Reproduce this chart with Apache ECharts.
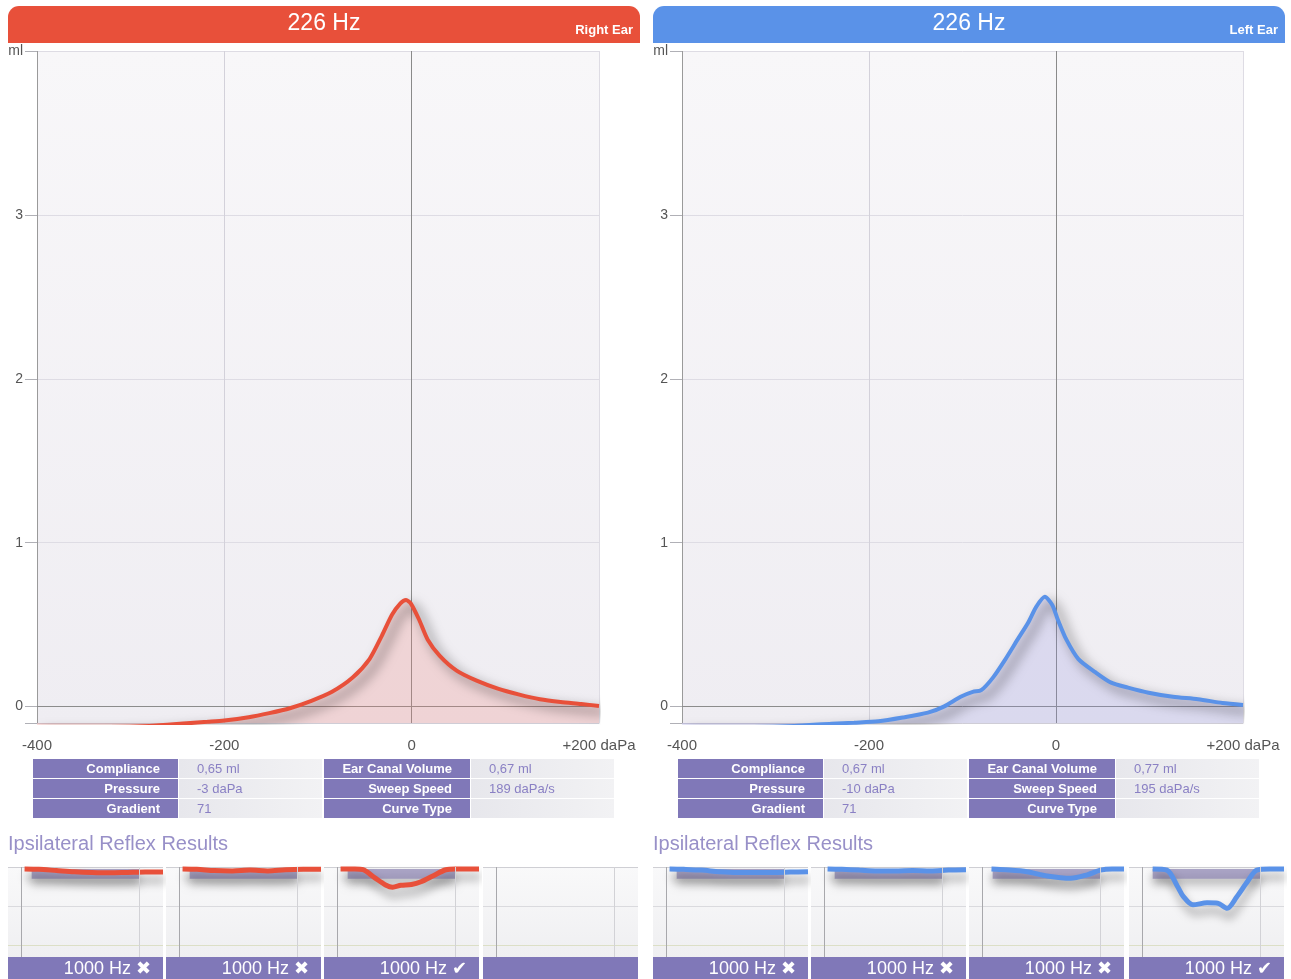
<!DOCTYPE html>
<html>
<head>
<meta charset="utf-8">
<title>Tympanometry</title>
<script src="https://cdn.jsdelivr.net/npm/echarts@6.0.0/dist/echarts.min.js"></script>
<style>
  html, body { margin: 0; padding: 0; background: #fff; }
  #chart { width: 1291px; height: 979px; }
</style>
</head>
<body>
<div id="chart"></div>
<script>
// tympanogram curves (pressure in daPa, compliance in ml)
const rightPressure = [-400, -340, -280, -240, -218, -200, -174, -152, -130, -107, -85, -63, -45, -32, -21, -12, -6, -1, 8, 17, 30, 48, 70, 92, 114, 137, 159, 181, 200];
const rightCompliance = [-0.125, -0.125, -0.118, -0.102, -0.093, -0.085, -0.065, -0.04, -0.01, 0.035, 0.09, 0.177, 0.29, 0.43, 0.56, 0.63, 0.65, 0.63, 0.53, 0.41, 0.31, 0.22, 0.157, 0.11, 0.075, 0.045, 0.028, 0.016, 0.004];
const leftPressure = [-400, -340, -280, -240, -216, -190, -164, -137, -120, -102, -89, -80, -67, -54, -41, -30, -21, -12, -4, 2, 11, 24, 42, 59, 77, 99, 125, 152, 178, 200];
const leftCompliance = [-0.125, -0.125, -0.118, -0.104, -0.098, -0.09, -0.067, -0.037, 0, 0.06, 0.09, 0.1, 0.18, 0.29, 0.41, 0.51, 0.61, 0.67, 0.62, 0.53, 0.41, 0.29, 0.21, 0.146, 0.116, 0.085, 0.06, 0.045, 0.022, 0.01];

const pressureTicks = ['-400', '-200', '0', '+200 daPa'];
const complianceTicks = [0, 1, 2, 3, 4];

// results tables
const tableLabels1 = ['Compliance', 'Pressure', 'Gradient'];
const tableLabels2 = ['Ear Canal Volume', 'Sweep Speed', 'Curve Type'];
const rightValues1 = ['0,65 ml', '-3 daPa', '71'];
const rightValues2 = ['0,67 ml', '189 daPa/s', ''];
const leftValues1 = ['0,67 ml', '-10 daPa', '71'];
const leftValues2 = ['0,77 ml', '195 daPa/s', ''];

// ipsilateral reflexes (time in s, deflection downward)
const rightReflexTime = [
    [0.03, 0.15, 0.3, 0.45, 0.6, 0.75, 0.9, 1.05, 1.2],
    [0.03, 0.15, 0.3, 0.45, 0.6, 0.75, 0.9, 1.05, 1.2],
    [0.03, 0.15, 0.22, 0.32, 0.41, 0.47, 0.54, 0.63, 0.71, 0.81, 0.92, 1.0, 1.2],
    []
];
const rightReflexDrop = [
    [0.05, 0.06, 0.09, 0.12, 0.14, 0.15, 0.14, 0.13, 0.13],
    [0.05, 0.06, 0.09, 0.1, 0.08, 0.1, 0.07, 0.06, 0.06],
    [0.05, 0.05, 0.07, 0.28, 0.46, 0.52, 0.47, 0.45, 0.38, 0.23, 0.07, 0.05, 0.05],
    []
];
const leftReflexTime = [
    [0.03, 0.15, 0.3, 0.45, 0.6, 0.75, 0.9, 1.05, 1.2],
    [0.03, 0.15, 0.3, 0.45, 0.6, 0.75, 0.9, 1.05, 1.2],
    [0.08, 0.2, 0.38, 0.55, 0.75, 0.89, 1.0, 1.1, 1.2],
    [0.09, 0.21, 0.3, 0.35, 0.43, 0.55, 0.64, 0.72, 0.8, 0.89, 0.97, 1.08, 1.2]
];
const leftReflexDrop = [
    [0.05, 0.06, 0.08, 0.12, 0.14, 0.14, 0.14, 0.13, 0.12],
    [0.05, 0.06, 0.08, 0.1, 0.1, 0.09, 0.1, 0.08, 0.07],
    [0.05, 0.07, 0.12, 0.23, 0.29, 0.2, 0.08, 0.05, 0.05],
    [0.05, 0.08, 0.5, 0.76, 0.97, 0.92, 0.93, 1.06, 0.77, 0.38, 0.08, 0.05, 0.05]
];
const rightReflexLabels = ['1000 Hz \u2716', '1000 Hz \u2716', '1000 Hz \u2714', ''];
const leftReflexLabels = ['1000 Hz \u2716', '1000 Hz \u2716', '1000 Hz \u2716', '1000 Hz \u2714'];

const RED = '#e8503a';
const BLUE = '#5a92e8';
const PURPLE = '#8078b8';
const FONT = '"Liberation Sans", Arial, "DejaVu Sans", sans-serif';

const chart = echarts.init(document.getElementById('chart'));

const plotBg = {
    type: 'linear', x: 0, y: 0, x2: 0, y2: 1,
    colorStops: [{offset: 0, color: '#f8f7f9'}, {offset: 1, color: '#efedf2'}]
};
const miniBg = {
    type: 'linear', x: 0, y: 0, x2: 0, y2: 1,
    colorStops: [{offset: 0, color: '#f9f9fa'}, {offset: 1, color: '#efeff1'}]
};

const grids = [];
const xAxes = [];
const yAxes = [];
const series = [];

// main tympanogram panels
function addMain(left, width, pressure, compliance, color, fill) {
    const idx = grids.length;
    grids.push({left: left, top: 51, width: width, height: 672, show: true, backgroundColor: plotBg, borderWidth: 0});
    xAxes.push({
        gridIndex: idx, type: 'value', min: -400, max: 200, interval: 200,
        axisLine: {onZero: false, lineStyle: {color: '#cfcdd6'}},
        axisTick: {show: false},
        axisLabel: {
            color: '#555', fontSize: 15, margin: 15, fontFamily: FONT,
            formatter: v => pressureTicks[(v + 400) / 200]
        },
        splitLine: {show: true, lineStyle: {color: ['#9a9a9a', '#d3d1da', '#8a8a8a', '#dedce4'], width: 1}}
    });
    yAxes.push({
        gridIndex: idx, type: 'value', min: -0.1, max: 4,
        axisLine: {show: false, onZero: false},
        axisTick: {show: true, customValues: [-0.1, 0, 1, 2, 3, 4], length: 12, lineStyle: {color: '#b0b0b6'}},
        axisLabel: {
            customValues: complianceTicks, color: '#555', fontSize: 14, margin: 14, fontFamily: FONT,
            formatter: v => v === 4 ? 'ml' : v
        },
        splitLine: {show: true, lineStyle: {color: '#dedce4'}}
    });
    series.push({
        type: 'line', xAxisIndex: idx, yAxisIndex: idx,
        data: pressure.map((p, i) => [p, compliance[i]]),
        smooth: 0.25, showSymbol: false, clip: true, silent: true,
        lineStyle: {color: color, width: 4, shadowBlur: 12, shadowColor: 'rgba(0,0,0,0.55)', shadowOffsetX: 6, shadowOffsetY: 6},
        areaStyle: {origin: 'start', color: fill},
        markLine: {
            silent: true, symbol: 'none', label: {show: false}, z: 1,
            data: [{yAxis: 0, lineStyle: {color: '#8c8c8c', width: 1, type: 'solid'}}]
        }
    });
}

addMain(37, 562, rightPressure, rightCompliance, RED, 'rgba(240,130,120,0.34)');
addMain(682, 561, leftPressure, leftCompliance, BLUE, 'rgba(140,140,225,0.3)');

// reflex mini panels
function addMini(x0, times, drops, color, withMarker) {
    const idx = grids.length;
    grids.push({left: x0, top: 867, width: 155, height: 90, show: true, backgroundColor: miniBg, borderWidth: 0});
    xAxes.push({
        gridIndex: idx, type: 'value', min: -0.11, max: 1.2,
        axisLine: {show: false}, axisTick: {show: false}, axisLabel: {show: false}, splitLine: {show: false}
    });
    yAxes.push({
        gridIndex: idx, type: 'value', inverse: true, min: 0, max: 2.31, interval: 1,
        axisLine: {show: false}, axisTick: {show: false}, axisLabel: {show: false},
        splitLine: {show: true, lineStyle: {color: ['#cfcfd4', '#dadade', '#dcdfc6', 'rgba(0,0,0,0)']}}
    });
    series.push({
        type: 'line', xAxisIndex: idx, yAxisIndex: idx,
        data: times.map((t, i) => [t, drops[i]]),
        smooth: 0.3, showSymbol: false, clip: true, silent: true,
        lineStyle: {color: color, width: 5, shadowBlur: 10, shadowColor: 'rgba(0,0,0,0.35)', shadowOffsetX: 2, shadowOffsetY: 8},
        markLine: {
            silent: true, symbol: 'none', label: {show: false},
            data: [
                {xAxis: 0, lineStyle: {color: '#a8a8ac', width: 1, type: 'solid'}},
                {xAxis: 1, lineStyle: {color: '#d2d2d6', width: 1, type: 'solid'}}
            ]
        },
        markArea: withMarker ? {
            silent: true,
            itemStyle: {color: 'rgba(145,138,182,0.75)', shadowBlur: 10, shadowColor: 'rgba(0,0,0,0.35)', shadowOffsetY: 6},
            data: [[{xAxis: 0.09, yAxis: 0.05}, {xAxis: 1.0, yAxis: 0.3}]]
        } : undefined
    });
}

const rightPanelX = [8, 166, 324, 483];
const leftPanelX = [653, 811, 969, 1129];
rightPanelX.forEach((x, i) => addMini(x, rightReflexTime[i], rightReflexDrop[i], RED, rightReflexTime[i].length > 0));
leftPanelX.forEach((x, i) => addMini(x, leftReflexTime[i], leftReflexDrop[i], BLUE, true));

// headers, tables, reflex captions
const graphics = [];

function header(x, color, ear) {
    graphics.push({
        type: 'rect', left: x, top: 6, silent: true,
        shape: {width: 632, height: 37, r: [11, 11, 0, 0]},
        style: {fill: color}
    });
    graphics.push({
        type: 'text', x: x + 316, y: 24, silent: true,
        style: {text: '226 Hz', fill: '#fff', font: '23px ' + FONT, textAlign: 'center', textVerticalAlign: 'middle'}
    });
    graphics.push({
        type: 'text', x: x + 625, y: 30, silent: true,
        style: {text: ear, fill: '#fff', font: 'bold 13px ' + FONT, textAlign: 'right', textVerticalAlign: 'middle'}
    });
}

const valueFill = {
    type: 'linear', x: 0, y: 0, x2: 1, y2: 0,
    colorStops: [{offset: 0, color: '#e7e7ec'}, {offset: 1, color: '#f2f2f4'}]
};

function table(dx, values1, values2) {
    for (let r = 0; r < 3; r++) {
        const y = 759 + r * 20;
        const cells = [
            [33, 145, true, tableLabels1[r]],
            [179, 143, false, values1[r]],
            [324, 146, true, tableLabels2[r]],
            [471, 143, false, values2[r]]
        ];
        cells.forEach(c => {
            graphics.push({
                type: 'rect', left: dx + c[0], top: y, silent: true,
                shape: {width: c[1], height: 19},
                style: {fill: c[2] ? PURPLE : valueFill}
            });
            if (c[3] === '') return;
            graphics.push({
                type: 'text', silent: true,
                x: c[2] ? dx + c[0] + c[1] - 18 : dx + c[0] + 18, y: y + 10,
                style: {
                    text: c[3], fill: c[2] ? '#fff' : '#8a80c4',
                    font: (c[2] ? 'bold ' : '') + '13px ' + FONT,
                    textAlign: c[2] ? 'right' : 'left', textVerticalAlign: 'middle'
                }
            });
        });
    }
    graphics.push({
        type: 'text', x: dx + 8, y: 844, silent: true,
        style: {text: 'Ipsilateral Reflex Results', fill: '#9890c8', font: '20px ' + FONT, textVerticalAlign: 'middle'}
    });
}

function reflexBars(xs, labels) {
    xs.forEach((x, i) => {
        graphics.push({
            type: 'rect', left: x, top: 957, silent: true,
            shape: {width: 155, height: 22},
            style: {fill: PURPLE}
        });
        if (labels[i] === '') return;
        graphics.push({
            type: 'text', x: x + 143, y: 969, silent: true,
            style: {text: labels[i], fill: '#fff', font: '18px ' + FONT, textAlign: 'right', textVerticalAlign: 'middle'}
        });
    });
}

header(8, RED, 'Right Ear');
header(653, BLUE, 'Left Ear');
table(0, rightValues1, rightValues2);
table(645, leftValues1, leftValues2);
reflexBars(rightPanelX, rightReflexLabels);
reflexBars(leftPanelX, leftReflexLabels);

chart.setOption({
    animation: false,
    backgroundColor: '#fff',
    textStyle: {fontFamily: FONT},
    grid: grids,
    xAxis: xAxes,
    yAxis: yAxes,
    series: series,
    graphic: graphics
});
</script>
</body>
</html>
